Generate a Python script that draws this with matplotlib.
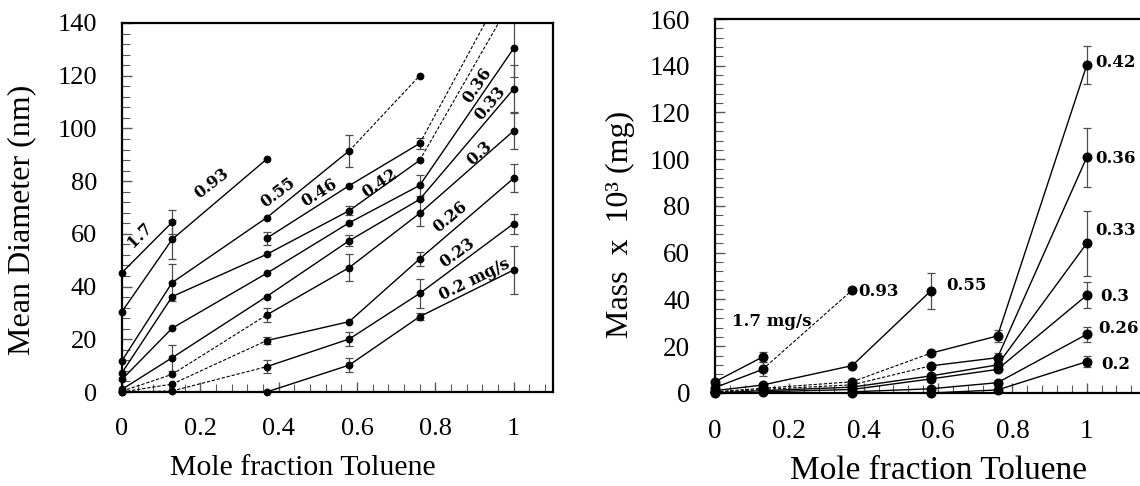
import numpy as np
import matplotlib
matplotlib.use('Agg')
import matplotlib.pyplot as plt
from matplotlib.ticker import MultipleLocator, FuncFormatter

nan = np.nan

# mole fraction of toluene (same for both panels)
x_frac = [0, 0.128, 0.369, 0.58, 0.76, 1.0]

# ---- left panel: mean diameter (nm) per feed rate (mg/s)
diam_17 = [45.3, 64.4, nan, nan, nan, nan]
diam_093 = [30.5, 57.9, 88.3, nan, nan, nan]
diam_055 = [11.9, 41.5, 66.1, 91.5, 120.0, nan]
diam_046 = [nan, nan, 58.3, 78.3, 94.3, 160.0]
diam_042 = [7.3, 36.2, 52.2, 68.8, 87.9, 150.0]
diam_036 = [4.8, 24.2, 45.0, 64.2, 78.4, 130.4]
diam_033 = [1.0, 13.0, 36.2, 57.4, 73.1, 115.0]
diam_03 = [0.3, 6.7, 29.2, 47.2, 67.8, 99.1]
diam_026 = [0.0, 3.0, 19.5, 26.7, 50.5, 81.1]
diam_023 = [0.0, 0.4, 9.6, 20.1, 37.4, 63.9]
diam_02 = [nan, nan, 0.0, 10.2, 28.6, 46.3]

diam_err_17 = [0, 4.5, 0, 0, 0, 0]
diam_err_093 = [0, 7.5, 0, 0, 0, 0]
diam_err_055 = [0, 7.0, 0, 6.1, 0, 0]
diam_err_046 = [0, 0, 2.5, 0, 2.0, 0]
diam_err_042 = [0, 0, 0, 1.8, 0, 0]
diam_err_036 = [0, 0, 0, 0, 4.0, 11.0]
diam_err_033 = [0, 5.0, 0, 2.0, 0, 9.0]
diam_err_03 = [0, 0, 2.7, 5.2, 5.0, 7.0]
diam_err_026 = [0, 0, 1.3, 0, 2.8, 5.3]
diam_err_023 = [0, 0, 2.5, 2.8, 5.6, 3.8]
diam_err_02 = [0, 0, 0, 2.6, 1.4, 9.2]

# segment styles (between consecutive x points)
diam_seg_17 = ['-', '-', '-', '-', '-']
diam_seg_093 = ['-', '-', '-', '-', '-']
diam_seg_055 = ['-', '-', '-', '--', '-']
diam_seg_046 = ['-', '-', '-', '-', '--']
diam_seg_042 = ['-', '-', '-', '-', '--']
diam_seg_036 = ['-', '-', '-', '-', '-']
diam_seg_033 = ['-', '-', '-', '-', '-']
diam_seg_03 = ['--', '--', '-', '-', '-']
diam_seg_026 = ['--', '--', '-', '-', '-']
diam_seg_023 = ['--', '--', '-', '-', '-']
diam_seg_02 = ['-', '-', '-', '-', '-']

# ---- right panel: mass x 10^3 (mg)
mass_17 = [4.8, 15.4, nan, nan, nan, nan]
mass_093 = [2.3, 10.1, 44.0, nan, nan, nan]
mass_055 = [1.0, 3.4, 11.7, 43.6, nan, nan]
mass_042 = [0.5, 2.0, 4.8, 17.0, 24.4, 140.2]
mass_036 = [0.3, 1.5, 3.5, 11.6, 15.1, 100.8]
mass_033 = [0.0, 1.0, 2.5, 7.3, 12.0, 64.0]
mass_03 = [nan, 0.5, 1.5, 6.0, 10.1, 41.8]
mass_026 = [nan, nan, 0.5, 1.8, 4.4, 25.1]
mass_02 = [nan, nan, 0.0, 0.0, 1.3, 13.4]

mass_err_17 = [0, 2.3, 0, 0, 0, 0]
mass_err_093 = [0, 3.0, 0, 0, 0, 0]
mass_err_055 = [0, 0, 0, 7.8, 0, 0]
mass_err_042 = [0, 0, 0, 0, 2.5, 8.2]
mass_err_036 = [0, 0, 0, 0, 2.0, 12.6]
mass_err_033 = [0, 0, 0, 0, 0, 13.8]
mass_err_03 = [0, 0, 0, 0, 0, 5.5]
mass_err_026 = [0, 0, 0, 0, 0, 3.2]
mass_err_02 = [0, 0, 0, 0, 0, 2.3]

mass_seg_17 = ['-', '-', '-', '-', '-']
mass_seg_093 = ['-', '--', '-', '-', '-']
mass_seg_055 = ['-', '-', '-', '-', '-']
mass_seg_042 = ['--', '--', '--', '-', '-']
mass_seg_036 = ['--', '--', '--', '-', '-']
mass_seg_033 = ['-', '-', '-', '-', '-']
mass_seg_03 = ['-', '-', '-', '-', '-']
mass_seg_026 = ['-', '-', '-', '-', '-']
mass_seg_02 = ['-', '-', '-', '-', '-']

# series labels
left_labels = ['1.7', '0.93', '0.55', '0.46', '0.42', '0.36', '0.33', '0.3',
               '0.26', '0.23', '0.2 mg/s']
right_labels = ['1.7 mg/s', '0.93', '0.55', '0.42', '0.36', '0.33', '0.3',
                '0.26', '0.2']

MAIN_FONT = 'Liberation Serif'
LABEL_FONT = 'DejaVu Serif'


def draw_series(ax, y, err, segs, ms, ymax):
    x = np.array(x_frac)
    y = np.array(y, dtype=float)
    for i in range(len(x) - 1):
        if np.isnan(y[i]) or np.isnan(y[i + 1]):
            continue
        if segs[i] == '--':
            ax.plot(x[i:i + 2], y[i:i + 2], color='k', lw=0.8,
                    dashes=(3, 1.6), zorder=2)
        else:
            ax.plot(x[i:i + 2], y[i:i + 2], color='k', lw=1.0, zorder=2)
    ok = ~np.isnan(y)
    e = np.array(err, dtype=float)
    has_err = ok & (e > 0)
    if has_err.any():
        ax.errorbar(x[has_err], y[has_err], yerr=e[has_err], fmt='none',
                    ecolor='0.3', elinewidth=0.9, capsize=3.2, capthick=0.9,
                    zorder=1)
    # points above the axis top are off the chart: no marker
    vis = ok & (np.nan_to_num(y) <= ymax)
    ax.plot(x[vis], y[vis], 'o', color='k', ms=ms, zorder=3, clip_on=False)


def style_axes(ax, ymax, ystep, xmax, fs):
    ax.set_ylim(0, ymax)
    ax.set_xlim(0, xmax)
    ax.set_xticks([0, 0.2, 0.4, 0.6, 0.8, 1.0])
    ax.set_yticks(np.arange(0, ymax + 1, ystep))
    ax.xaxis.set_minor_locator(MultipleLocator(0.04))
    ax.yaxis.set_minor_locator(MultipleLocator(4))
    fmt = FuncFormatter(lambda v, p: '%g' % round(v, 2))
    ax.xaxis.set_major_formatter(fmt)
    ax.yaxis.set_major_formatter(fmt)
    ax.tick_params(which='both', direction='in', top=False, right=False,
                   color='0.35', labelsize=fs)
    ax.tick_params(which='major', length=7, width=1.0)
    ax.tick_params(which='minor', length=5.5, width=0.8)
    ax.tick_params(axis='y', pad=18)
    ax.tick_params(axis='x', pad=19)
    for lab in ax.get_xticklabels() + ax.get_yticklabels():
        lab.set_fontfamily(MAIN_FONT)
    for sp in ax.spines.values():
        sp.set_linewidth(1.6)
        sp.set_color('k')


fig = plt.figure(figsize=(11.4, 4.86), dpi=100)

# ---------------- left panel
ax1 = fig.add_axes([0.107, 0.1934, 0.378, 0.7593])
left_series = [
    (diam_17, diam_err_17, diam_seg_17),
    (diam_093, diam_err_093, diam_seg_093),
    (diam_055, diam_err_055, diam_seg_055),
    (diam_046, diam_err_046, diam_seg_046),
    (diam_042, diam_err_042, diam_seg_042),
    (diam_036, diam_err_036, diam_seg_036),
    (diam_033, diam_err_033, diam_seg_033),
    (diam_03, diam_err_03, diam_seg_03),
    (diam_026, diam_err_026, diam_seg_026),
    (diam_023, diam_err_023, diam_seg_023),
    (diam_02, diam_err_02, diam_seg_02),
]
for y, e, s in left_series:
    draw_series(ax1, y, e, s, ms=4.6, ymax=140)
style_axes(ax1, 140, 20, 1.1, 19)
ax1.set_xlabel('Mole fraction Toluene', fontsize=21.5, family=MAIN_FONT)
ax1.xaxis.set_label_coords(0.42, -0.171)
ax1.set_ylabel('Mean Diameter (nm)', fontsize=23, family=MAIN_FONT)
ax1.yaxis.set_label_coords(-0.232, 0.466)
ax1.yaxis.label.set_va('center')

# label positions / angles for left panel
left_lab_x = [0.046, 0.229, 0.398, 0.505, 0.658, 0.908, 0.939, 0.913, 0.837, 0.857, 0.90]
left_lab_y = [59.6, 79.2, 75.5, 75.5, 79.3, 116.5, 109.6, 90.7, 66.4, 52.7, 42.5]
left_lab_rot = [45, 38, 37, 32, 34, 56, 50, 42, 40, 36, 26]
for t, lx, ly, r in zip(left_labels, left_lab_x, left_lab_y, left_lab_rot):
    ax1.text(lx, ly, t, fontsize=11.5, fontweight='bold', family=LABEL_FONT,
             rotation=r, rotation_mode='anchor', ha='center', va='center')

# ---------------- right panel
ax2 = fig.add_axes([0.6272, 0.1914, 0.3913, 0.7695])
right_series = [
    (mass_17, mass_err_17, mass_seg_17),
    (mass_093, mass_err_093, mass_seg_093),
    (mass_055, mass_err_055, mass_seg_055),
    (mass_042, mass_err_042, mass_seg_042),
    (mass_036, mass_err_036, mass_seg_036),
    (mass_033, mass_err_033, mass_seg_033),
    (mass_03, mass_err_03, mass_seg_03),
    (mass_026, mass_err_026, mass_seg_026),
    (mass_02, mass_err_02, mass_seg_02),
]
for y, e, s in right_series:
    draw_series(ax2, y, e, s, ms=6.2, ymax=160)
style_axes(ax2, 160, 20, 1.2, 19.5)
ax2.set_xlabel('Mole fraction Toluene', fontsize=24, family=MAIN_FONT)
ax2.xaxis.set_label_coords(0.502, -0.168)
ax2.set_ylabel('Mass  x  10³ (mg)', fontsize=23, family=MAIN_FONT)
ax2.yaxis.set_label_coords(-0.212, 0.452)
ax2.yaxis.label.set_va('center')

right_lab_x = [0.045, 0.385, 0.621, 1.022, 1.022, 1.022, 1.036, 1.030, 1.040]
right_lab_y = [30.5, 43.6, 45.8, 141.5, 100.4, 69.7, 41.2, 27.7, 12.0]
for t, lx, ly in zip(right_labels, right_lab_x, right_lab_y):
    ax2.text(lx, ly, t, fontsize=12, fontweight='bold', family=LABEL_FONT,
             ha='left', va='center')

fig.savefig('out.png', dpi=100)
